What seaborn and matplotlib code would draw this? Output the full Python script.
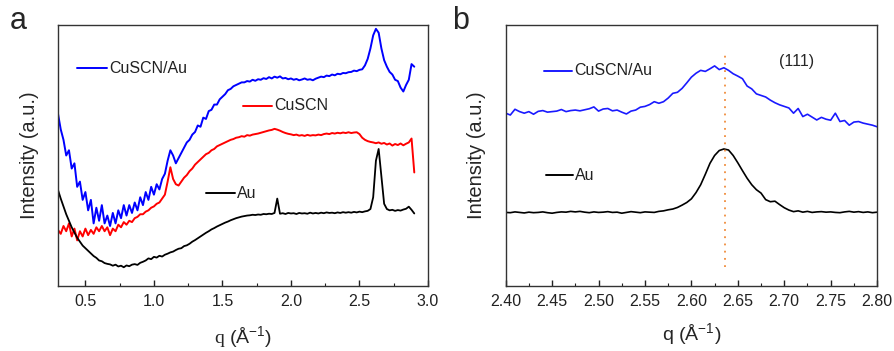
import numpy as np
import matplotlib
matplotlib.use("Agg")
import matplotlib.pyplot as plt
from matplotlib.ticker import MultipleLocator
import seaborn as sns

# ---- panel a: full q range (arbitrary intensity units) ----
q_a = np.round(np.arange(0.30, 2.901, 0.02), 2)

cuscn_au_a = [66, 60, 56, 50, 52, 45, 47, 38, 40, 33,
              36, 29, 33, 24, 30, 25, 31, 24, 27, 23,
              28, 24, 29, 26, 31, 27, 31, 28, 32, 29,
              34, 31, 36, 33, 38, 35, 39, 37, 41, 43,
              48, 52, 50, 47, 49, 51, 53, 55, 56, 58,
              59, 61.5, 61, 64.5, 64, 67, 67.5, 69.5, 69.5, 71.5,
              72.5, 73.5, 75, 75.5, 76.5, 77, 77.5, 78, 78, 78.5,
              78.3, 79, 78.6, 79.2, 79, 79.6, 79.3, 80, 79.5, 80.2,
              79.8, 80.3, 79.5, 79.7, 79.2, 79.5, 79, 79.3, 78.8, 79.1,
              79.5, 79, 79.2, 78.8, 79.4, 79.8, 80.2, 80, 80.6, 80.4,
              81, 80.7, 81.3, 81.1, 81.6, 81.5, 81.9, 82, 82.5, 82.3,
              82.8, 83, 84.5, 87, 91, 96, 98.5, 97, 91, 86.5,
              84, 82, 81, 79, 78.5, 76, 74.5, 77, 79, 85, 84]

cuscn_a = [21.5, 20, 23, 21, 24, 19, 22, 17.5, 21, 19,
           22, 19.5, 21.5, 20, 22.5, 21, 23, 21, 22.5, 19.5,
           22, 21, 23.5, 22.5, 24.5, 23.5, 25, 24.5, 26, 26.5,
           27.5, 27.5, 28.5, 29, 30, 30.5, 31.5, 32, 33.5, 35,
           40, 45.5, 41, 39, 38.5, 40, 41.5, 42.5, 44, 45,
           46.5, 47.5, 48.5, 49.5, 50.5, 51, 52, 52.5, 53.5, 54,
           54.5, 55, 55.5, 56, 56.3, 56.8, 57, 57.4, 57.2, 57.8,
           57.6, 58, 58.2, 58.4, 58.7, 59, 59.3, 59.6, 59.8, 60.2,
           59.9, 59.5, 59, 58.6, 58.3, 58.1, 57.8, 58, 57.6, 57.8,
           57.5, 57.9, 57.6, 57.8, 57.7, 58, 57.8, 58.2, 58.4, 58.2,
           58.6, 58.4, 58.7, 58.5, 58.8, 58.6, 58.9, 58.6, 58.8, 58.9,
           58.2, 56.8, 56, 55.5, 55.2, 55, 54.7, 55, 54.5, 54.8,
           54.2, 54.6, 53.8, 54.4, 54, 54.6, 53.9, 54.5, 55, 56.5, 43.5]

au_a = [36.8, 33.5, 30.5, 27.5, 25, 22.5, 20.5, 18.5, 17, 15.5,
        14.5, 13.5, 12.5, 11.5, 10.8, 9.8, 9.5, 8.8, 8.5, 8.3,
        7.8, 8.2, 7.5, 7.8, 7.2, 7.9, 7.6, 8.2, 8.4, 8.1,
        8.9, 9.3, 9.8, 10.6, 10.3, 11.2, 10.9, 11.6, 11.3, 12,
        12.4, 12.9, 13.2, 13.8, 14.3, 14.5, 15.3, 15.6, 16.2, 17,
        17.6, 18.3, 19, 19.7, 20.4, 21, 21.7, 22.2, 22.8, 23.3,
        23.8, 24.3, 24.7, 25.2, 25.6, 26, 26.3, 26.6, 26.8, 27,
        27.1, 27.3, 27.2, 27.4, 27.3, 27.6, 27.5, 27.7, 27.6, 28,
        33.5, 27.7, 27.9, 27.6, 28, 27.8, 27.9, 27.6, 28, 27.8,
        27.9, 27.7, 28.1, 27.8, 28, 27.8, 28.1, 27.9, 28.2, 28,
        28.1, 27.9, 28.2, 28, 28.3, 28.1, 28.3, 28.1, 28.4, 28.2,
        28.5, 28.3, 28.6, 28.8, 29.5, 34, 48, 52.5, 42, 31.5,
        29.5, 29, 29.2, 28.8, 29.1, 28.9, 29.3, 29.6, 30.4, 29.2, 27.8]

# ---- panel b: zoom on the Au (111) reflection ----
q_b = np.round(np.arange(2.400, 2.8001, 0.005), 3)

cuscn_au_b = [66.2, 65.5, 67.7, 66.8, 66.2, 66.8, 65.8, 66.9, 67.2, 66.6,
              66.8, 67, 67.6, 66.8, 67.2, 67.4, 67.1, 67.5, 67.9, 68.6,
              67, 67.8, 68, 67.1, 67.4, 66.6, 65.9, 67, 67.4, 68.5,
              68.8, 69.5, 70.6, 70, 70.6, 72, 73.8, 74.2, 75.7, 77.8,
              80, 81.5, 82.6, 82.2, 83.2, 84.3, 82.9, 83.6, 82.6, 81.3,
              80.4, 79.4, 76.6, 75.5, 73.6, 73, 72.4, 71.2, 70.2, 69.4,
              68.8, 68.2, 66.2, 68, 64.9, 65.8, 64.7, 63.6, 64.6, 63.9,
              63.5, 66.2, 63, 63.4, 61.6, 62.8, 63, 62.4, 62, 61.6,
              61]

au_b = [28.2, 28.1, 28.4, 28.2, 28.0, 28.3, 28.1, 28.2, 28.4, 28.1,
        27.9, 28.2, 28.4, 28.3, 28.6, 28.4, 28.6, 28.3, 28.1, 28.4,
        28.2, 28.3, 28.5, 28.2, 28.3, 27.9, 28.2, 28.5, 28.3, 28.1,
        28.4, 28.3, 28.2, 28.6, 28.8, 29.2, 29.5, 30.1, 31, 32,
        33.4, 35.8, 38.8, 42.8, 47, 50, 51.9, 52.5, 52.1, 50,
        47.2, 44.2, 41.3, 38.8, 36.9, 35.6, 33.1, 32.3, 32.5, 31.2,
        30, 29.1, 28.5, 28.8, 28.3, 28.6, 28.2, 28.4, 28.5, 28.3,
        28.4, 28.2, 28.1, 28.4, 28.6, 28.3, 28.5, 28.2, 28.4, 28.1,
        28.3]

peak_q = 2.636
peak_span = (7.4, 89)

sns.set_style("ticks")
plt.rcParams['font.family'] = ['Liberation Sans', 'DejaVu Sans']
plt.rcParams['mathtext.fontset'] = 'custom'
plt.rcParams['mathtext.rm'] = 'Liberation Serif'
plt.rcParams['mathtext.sf'] = 'Liberation Sans'

fig = plt.figure(figsize=(8.95, 3.51), dpi=100)
ax_a = fig.add_axes([0.0648, 0.185, 0.4134, 0.744])
ax_b = fig.add_axes([0.565, 0.185, 0.415, 0.744])

sns.lineplot(x=q_a, y=cuscn_au_a, ax=ax_a, color='#0000ff', lw=1.4)
sns.lineplot(x=q_a, y=cuscn_a, ax=ax_a, color='#ff0000', lw=1.4)
sns.lineplot(x=q_a, y=au_a, ax=ax_a, color='black', lw=1.3)

sns.lineplot(x=q_b, y=cuscn_au_b, ax=ax_b, color='#1a1aff', lw=1.2)
sns.lineplot(x=q_b, y=au_b, ax=ax_b, color='black', lw=1.2)
ax_b.vlines(peak_q, *peak_span, colors='#f08c3c', linestyles=(0, (1, 3)), lw=1.3)
ax_b.text(2.713, 86, "(111)", ha='center', va='center', fontsize=11.5)


def label_line(ax, x0, x1, y, color, text):
    ax.plot([x0, x1], [y, y], color=color, lw=1.4, transform=ax.transAxes)
    ax.text(x1 + 0.006, y, text, transform=ax.transAxes, ha='left',
            va='center', fontsize=11.5, color='#222222')


label_line(ax_a, 0.051, 0.132, 0.835, '#0000ff', "CuSCN/Au")
label_line(ax_a, 0.50, 0.578, 0.69, '#ff0000', "CuSCN")
label_line(ax_a, 0.40, 0.478, 0.356, 'black', "Au")
label_line(ax_b, 0.103, 0.178, 0.824, '#1a1aff', "CuSCN/Au")
label_line(ax_b, 0.108, 0.181, 0.425, 'black', "Au")

ax_a.set_xlim(0.3, 3.0)
ax_a.xaxis.set_major_locator(MultipleLocator(0.5))
ax_a.xaxis.set_minor_locator(MultipleLocator(0.25))
ax_a.set_xlabel(r"$\mathrm{q}$ (Å$^{\mathsf{-1}}$)", fontsize=14, labelpad=11)

ax_b.set_xlim(2.40, 2.80)
ax_b.xaxis.set_minor_locator(MultipleLocator(0.025))
ax_b.set_xticks(np.round(np.arange(2.40, 2.801, 0.05), 2))
ax_b.set_xticklabels([f"{v:.2f}" for v in np.arange(2.40, 2.801, 0.05)])
ax_b.set_xlabel(r"q (Å$^{\mathsf{-1}}$)", fontsize=14, labelpad=9)

for ax in (ax_a, ax_b):
    ax.set_ylim(0, 100)
    ax.set_yticks([])
    ax.set_ylabel("Intensity (a.u.)", fontsize=14.5, labelpad=14)
    ax.tick_params(axis='x', which='major', direction='in', length=4,
                   width=1, labelsize=11.5, pad=6, colors='#222222')
    ax.tick_params(axis='x', which='minor', direction='in', length=2.5,
                   width=0.8, colors='#222222')
    for sp in ax.spines.values():
        sp.set_visible(True)
        sp.set_color('#333333')
        sp.set_linewidth(1.0)

fig.text(0.011, 0.94, "a", fontsize=22, ha='left', va='center')
fig.text(0.505, 0.94, "b", fontsize=22, ha='left', va='center')

fig.savefig("out.png", dpi=100)
